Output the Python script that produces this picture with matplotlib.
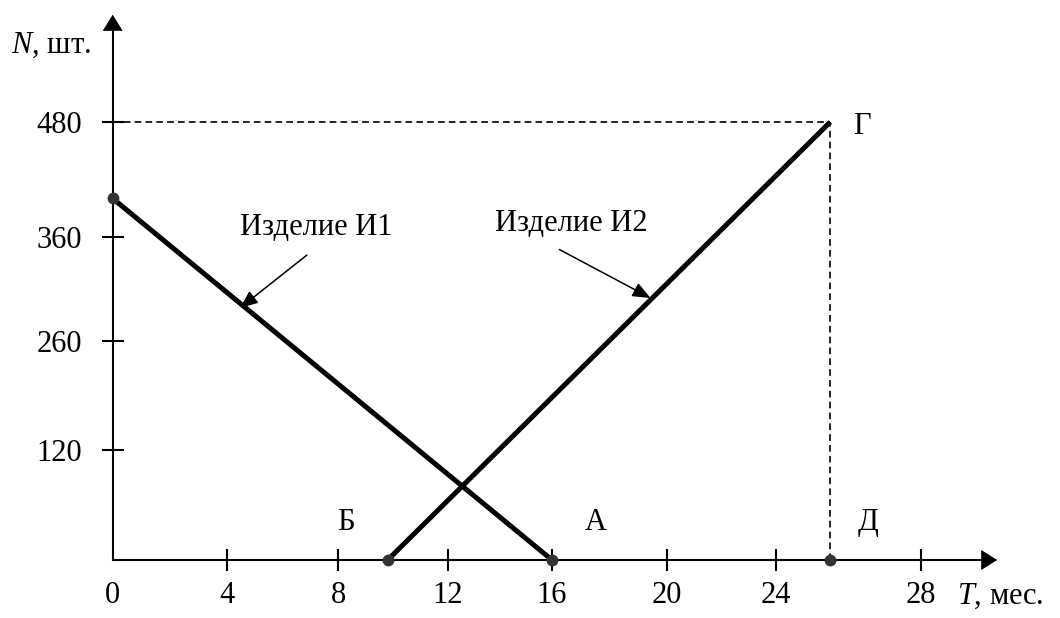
import numpy as np
import matplotlib
matplotlib.use("Agg")
import matplotlib.pyplot as plt

# data
t_ticks = [0, 4, 8, 12, 16, 20, 24, 28]
n_ticks = [120, 260, 360, 480]

izd1_t = [0, 16]
izd1_n = [400, 0]
izd2_t = [9.8, 25.5]
izd2_n = [0, 480]

dots_t = [0, 9.8, 16, 25.5]
dots_n = [400, 0, 0, 0]
point_g = (25.5, 480)

# the drawing has evenly spaced ticks with uneven values -> piecewise scale
x_knots = [-100] + t_ticks + [100]
x_pix = [112.7 - 100 * 28.5, 112.7, 226.7, 338.3, 448, 552, 666.7, 776, 920.7, 920.7 + 72 * 36.2]
y_knots = [-1000, 0] + n_ticks + [2000]
y_pix = [58 - 1000 * 0.917, 58, 168, 277, 381.3, 496, 496 + 1520 * 0.956]


def fx(v):
    return np.interp(v, x_knots, x_pix)


def ix(p):
    return np.interp(p, x_pix, x_knots)


def fy(v):
    return np.interp(v, y_knots, y_pix)


def iy(p):
    return np.interp(p, y_pix, y_knots)


plt.rcParams["font.family"] = ["Liberation Serif", "DejaVu Serif"]
plt.rcParams["font.size"] = 22
plt.rcParams["mathtext.fontset"] = "custom"
plt.rcParams["mathtext.rm"] = "Liberation Serif"
plt.rcParams["mathtext.it"] = "Liberation Serif:italic"

fig = plt.figure(figsize=(10.6, 6.18), dpi=100)
ax = fig.add_axes([0, 0, 1, 1])
ax.set_xscale("function", functions=(fx, ix))
ax.set_yscale("function", functions=(fy, iy))
ax.set_xlim(ix(0), ix(1060))
ax.set_ylim(iy(0), iy(618))

# axes with arrows
for s in ["top", "right"]:
    ax.spines[s].set_visible(False)
ax.spines["left"].set_position(("data", 0))
ax.spines["bottom"].set_position(("data", 0))
ax.spines["left"].set_linewidth(1.5)
ax.spines["bottom"].set_linewidth(1.5)
x_end = ix(986)
y_end = iy(618 - 26)
ax.spines["bottom"].set_bounds(0, x_end)
ax.spines["left"].set_bounds(0, y_end)
ax.annotate("", xy=(ix(1000), 0), xytext=(ix(980), 0),
            arrowprops=dict(arrowstyle="-|>,head_length=0.4,head_width=0.25",
                            mutation_scale=27, color="black", lw=0.5))
ax.annotate("", xy=(0, iy(618 - 12)), xytext=(0, iy(618 - 32)),
            arrowprops=dict(arrowstyle="-|>,head_length=0.4,head_width=0.25",
                            mutation_scale=27, color="black", lw=0.5))

ax.set_xticks(t_ticks)
ax.set_xticklabels([str(t) for t in t_ticks])
ax.set_yticks(n_ticks)
ax.set_yticklabels([str(n) for n in n_ticks])
ax.tick_params(direction="inout", length=16, width=1.5, labelsize=22)
ax.tick_params(axis="x", pad=7)
ax.tick_params(axis="y", pad=14)
ax.xaxis.get_major_ticks()[0].tick1line.set_visible(False)

# dashed guides to point Г
ax.plot([0, point_g[0]], [point_g[1], point_g[1]], color="black", lw=1.2,
        linestyle=(0, (4, 2.5)))
ax.plot([point_g[0], point_g[0]], [0, point_g[1]], color="black", lw=1.2,
        linestyle=(0, (4, 2.5)))

# product lines
ax.plot(izd1_t, izd1_n, color="black", lw=3.6, solid_capstyle="butt")
ax.plot(izd2_t, izd2_n, color="black", lw=3.6, solid_capstyle="butt")
ax.plot(dots_t, dots_n, "o", color="#333333", ms=7.5, clip_on=False, zorder=5)

# labels with arrows
ax.text(7.2, 370, "Изделие И1", ha="center", va="center")
ax.annotate("", xy=(4.4, 290), xytext=(6.95, 344),
            arrowprops=dict(arrowstyle="-|>,head_length=0.6,head_width=0.25",
                            mutation_scale=18, color="black", lw=1.1))
ax.text(16.66, 374, "Изделие И2", ha="center", va="center")
ax.annotate("", xy=(19.52, 300), xytext=(16.17, 349),
            arrowprops=dict(arrowstyle="-|>,head_length=0.6,head_width=0.25",
                            mutation_scale=18, color="black", lw=1.1))

# point letters
ax.text(26.38, 475, "Г", ha="center", va="center")
ax.text(8.28, 41, "Б", ha="center", va="center")
ax.text(17.53, 41, "А", ha="center", va="center")
ax.text(26.54, 41, "Д", ha="center", va="center")

# axis titles
ax.text(-2.17, 560, "$N$, шт.", ha="center", va="center")
ax.text(30.19, -40, "$T$, мес.", ha="center", va="center")

fig.savefig("out.png", dpi=100)
